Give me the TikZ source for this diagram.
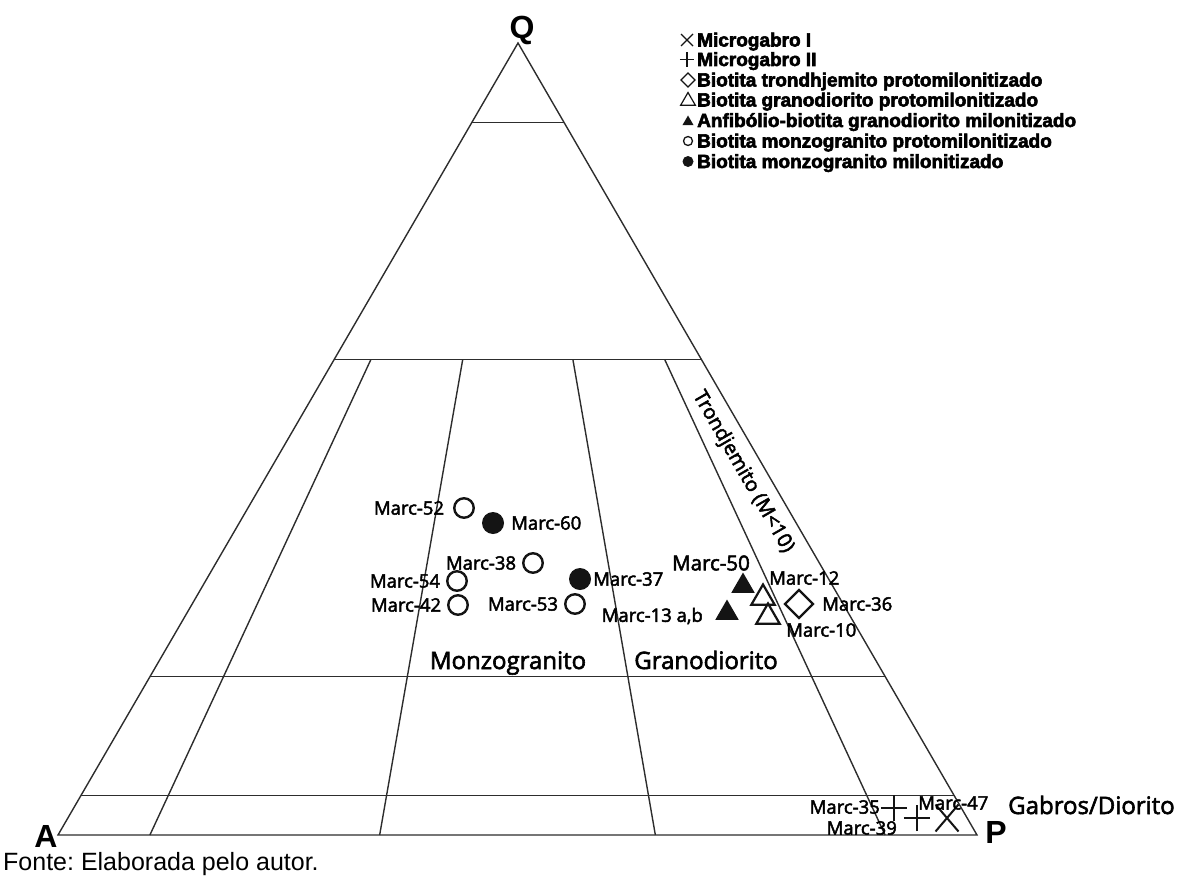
\documentclass[tikz,border=0pt]{standalone}
\usepackage{fontspec}
\setmainfont{Liberation Sans}
\newfontfamily\samplefont{Open Sans}[FakeBold=2.5]
\newfontfamily\keyfont{Liberation Sans}[BoldFeatures={FakeBold=3}]
\usetikzlibrary{shapes,positioning,calc}
\definecolor{gridgray}{RGB}{45,45,45}
\definecolor{markblack}{RGB}{20,20,20}
\frenchspacing
\tikzset{
    edge/.style={draw=gridgray, line width=1.4pt},
    opensym/.style={circle, draw=markblack, line width=2.4pt, minimum size=19.5pt, inner sep=0pt, outer sep=0pt},
    fullsym/.style={circle, fill=markblack, minimum size=22pt, inner sep=0pt, outer sep=0pt},
    opentri/.style={regular polygon, regular polygon sides=3, draw=markblack, line width=2.2pt, minimum size=27pt, inner sep=0pt, outer sep=0pt},
    fulltri/.style={regular polygon, regular polygon sides=3, fill=markblack, minimum size=27pt, inner sep=0pt, outer sep=0pt},
    opendia/.style={diamond, draw=markblack, line width=2.2pt, minimum width=28pt, minimum height=28pt, inner sep=0pt, outer sep=0pt},
    xsym/.style={cross out, draw=markblack, line width=2pt, minimum width=23pt, minimum height=27pt, inner sep=0pt, outer sep=0pt},
    plussym/.style={cross out, draw=markblack, line width=2pt, minimum size=18.5pt, rotate=45, inner sep=0pt, outer sep=0pt},
    sample/.style={font=\samplefont\fontsize{18.5}{20}\selectfont, inner sep=0pt},
    field/.style={font=\samplefont\fontsize{24}{26}\selectfont, inner sep=0pt},
    corner/.style={font=\bfseries\fontsize{32}{34}\selectfont, inner sep=0pt, anchor=base},
    keytext/.style={font=\keyfont\bfseries\fontsize{19}{20}\selectfont, inner sep=0pt, anchor=base west}
}

\begin{document}
\begin{tikzpicture}[x=1pt,y=-1pt]
    \useasboundingbox (0,0) rectangle (1193,880);

    % QAP triangle
    \coordinate (Q) at (518,43);
    \coordinate (A) at (58,835);
    \coordinate (P) at (977,835);
    \draw[edge] (A) -- (P) -- (Q) -- cycle;
    \node[corner] (qlbl) at (522,39) {Q};
    \node[corner] (albl) at (46,847) {A};
    \node[corner] (plbl) at (996,843) {P};

    % Q levels
    \draw[edge] ($(A)!0.9!(Q)$) -- ($(P)!0.9!(Q)$);
    \draw[edge] ($(A)!0.6!(Q)$) -- ($(P)!0.6!(Q)$);
    \draw[edge] ($(A)!0.2!(Q)$) -- ($(P)!0.2!(Q)$);
    \draw[edge] ($(A)!0.05!(Q)$) -- ($(P)!0.05!(Q)$);

    % P/(A+P) lines
    \coordinate (b10) at ($(A)!0.1!(P)$);
    \coordinate (b35) at ($(A)!0.35!(P)$);
    \coordinate (b65) at ($(A)!0.65!(P)$);
    \coordinate (b90) at ($(A)!0.9!(P)$);
    \draw[edge] (b10) -- ($(b10)!0.6!(Q)$);
    \draw[edge] (b35) -- ($(b35)!0.6!(Q)$);
    \draw[edge] (b65) -- ($(b65)!0.6!(Q)$);
    \draw[edge] (b90) -- ($(b90)!0.6!(Q)$);

    % Fields
    \node[field, anchor=base] (monzo) at (508,669) {Monzogranito};
    \node[field, anchor=base] (grano) at (706,669) {Granodiorito};
    \node[field, anchor=base west] (gabro) at (1008,814) {Gabros/Diorito};
    \node[sample, font=\samplefont\fontsize{20}{22}\selectfont, rotate=-60] (trond) at (743,472) {Trondjemito (M<10)};

    % Monzogranitos
    \node[opensym] (m52) at (464,508) {};
    \node[sample, left=10pt of m52] {Marc-52};
    \node[fullsym] (m60) at (493,523) {};
    \node[sample, right=7pt of m60] {Marc-60};
    \node[opensym] (m38) at (533,563) {};
    \node[sample, left=7pt of m38] {Marc-38};
    \node[opensym] (m54) at (457,581) {};
    \node[sample, left=7pt of m54] {Marc-54};
    \node[opensym] (m42) at (458,605) {};
    \node[sample, left=7pt of m42] {Marc-42};
    \node[fullsym] (m37) at (580,579) {};
    \node[sample, right=2pt of m37] {Marc-37};
    \node[opensym] (m53) at (575,604) {};
    \node[sample, left=7pt of m53] {Marc-53};

    % Granodioritos and trondhjemito
    \node[fulltri] (m50) at (743,586) {};
    \node[sample, font=\samplefont\fontsize{20.5}{22}\selectfont] at (711,563) {Marc-50};
    \node[fulltri] (m13) at (727,613) {};
    \node[sample, anchor=east] at (703,616) {Marc-13 a,b};
    \node[opentri] (m12) at (763,598) {};
    \node[sample, anchor=west] at (769,578) {Marc-12};
    \node[opentri] (m10) at (768,617) {};
    \node[sample, anchor=west] at (786,630) {Marc-10};
    \node[opendia] (m36) at (799,604) {};
    \node[sample, right=9pt of m36] {Marc-36};

    % Microgabros
    \node[plussym] (m35) at (894,808) {};
    \node[sample, anchor=east] at (880,807) {Marc-35};
    \node[plussym] (m39) at (917,818) {};
    \node[sample, anchor=east] at (897,828) {Marc-39};
    \node[xsym] (m47) at (947,818) {};
    \node[sample, anchor=west] at (918,803) {Marc-47};

    % Legend
    \node[xsym, line width=1.1pt, minimum width=12pt, minimum height=12pt] (k1) at (687,40) {};
    \node[keytext] at (697,46.5) {Microgabro I};
    \node[plussym, line width=1.1pt, minimum size=10pt] (k2) at (687,59.5) {};
    \node[keytext] at (697,66) {Microgabro II};
    \node[opendia, line width=1.2pt, minimum width=14pt, minimum height=14pt] (k3) at (688,80) {};
    \node[keytext] at (697,86.5) {Biotita trondhjemito protomilonitizado};
    \node[opentri, line width=1.2pt, minimum size=17pt] (k4) at (688,101) {};
    \node[keytext] at (697,106.5) {Biotita granodiorito protomilonitizado};
    \node[fulltri, minimum size=13pt] (k5) at (688,122) {};
    \node[keytext] at (697,127) {Anfibólio-biotita granodiorito milonitizado};
    \node[opensym, line width=1.3pt, minimum size=9pt] (k6) at (688,141) {};
    \node[keytext] at (697,147.5) {Biotita monzogranito protomilonitizado};
    \node[fullsym, minimum size=11pt] (k7) at (688,161.5) {};
    \node[keytext] at (697,168) {Biotita monzogranito milonitizado};

    % Source
    \node[font=\fontsize{25}{27}\selectfont, inner sep=0pt, anchor=base west] (fonte) at (3,870) {Fonte: Elaborada pelo autor.};
\end{tikzpicture}
\end{document}
